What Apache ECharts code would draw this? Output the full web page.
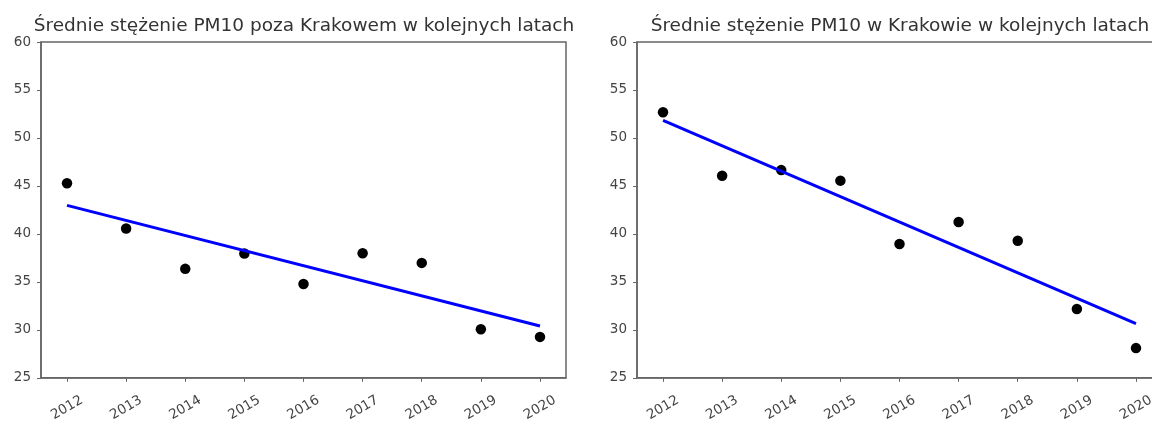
<!DOCTYPE html>
<html>
<head>
<meta charset="utf-8">
<script src="https://cdn.jsdelivr.net/npm/echarts@6/dist/echarts.min.js"></script>
<style>
html,body{margin:0;padding:0;background:#fff;overflow:hidden;}
#c{width:1200px;height:424px;}
</style>
</head>
<body>
<div id="c"></div>
<script>
const years = [2012, 2013, 2014, 2015, 2016, 2017, 2018, 2019, 2020];
const outsideValues = [45.28, 40.56, 36.36, 37.95, 34.78, 37.98, 36.98, 30.06, 29.27];
const krakowValues = [52.67, 46.06, 46.65, 45.55, 38.94, 41.25, 39.29, 32.17, 28.1];
const trendYears = [2012, 2020];
const outsideTrend = [42.97, 30.4];
const krakowTrend = [51.84, 30.65];
const yTicks = [25, 30, 35, 40, 45, 50, 55, 60];
const titles = [
  'Średnie stężenie PM10 poza Krakowem w kolejnych latach',
  'Średnie stężenie PM10 w Krakowie w kolejnych latach'
];

const FONT = 'DejaVu Sans';
const grids = [
  {left: 41, top: 42, width: 525, height: 339},
  {left: 637, top: 42, width: 525, height: 339}
];
const pair = (xs, ys) => xs.map((x, i) => [x, ys[i]]);

function xAxis(i) {
  return {
    type: 'value', gridIndex: i, min: 2011.56, max: 2020.44,
    splitLine: {show: false},
    axisLine: {show: true, onZero: false, lineStyle: {color: '#666', width: 1.5}},
    axisTick: {show: true, length: 4, customValues: years, lineStyle: {color: '#666', width: 1}},
    axisLabel: {
      customValues: years, rotate: 30, align: 'center', verticalAlign: 'middle',
      margin: 30, fontFamily: FONT, fontSize: 13.5, color: '#444',
      formatter: v => String(v)
    }
  };
}
function yAxis(i) {
  return {
    type: 'value', gridIndex: i, min: 25, max: 60, interval: 5,
    splitLine: {show: false},
    axisLine: {show: true, lineStyle: {color: '#666', width: 1.5}},
    axisTick: {show: true, length: 4, lineStyle: {color: '#666', width: 1}},
    axisLabel: {margin: 10, fontFamily: FONT, fontSize: 13.5, color: '#444',
      formatter: v => yTicks.includes(v) ? String(v) : ''}
  };
}

const chart = echarts.init(document.getElementById('c'), null, {renderer: 'canvas'});
chart.setOption({
  animation: false,
  backgroundColor: '#fff',
  title: [
    {text: titles[0], left: 304, top: 17, textAlign: 'center', padding: 0,
     textStyle: {fontFamily: FONT, fontSize: 18.5, fontWeight: 'normal', color: '#333'}},
    {text: titles[1], left: 900, top: 17, textAlign: 'center', padding: 0,
     textStyle: {fontFamily: FONT, fontSize: 18.5, fontWeight: 'normal', color: '#333'}}
  ],
  grid: grids.map(g => Object.assign({show: true, borderColor: '#666', borderWidth: 1.5, backgroundColor: 'transparent'}, g)),
  xAxis: [xAxis(0), xAxis(1)],
  yAxis: [yAxis(0), yAxis(1)],
  series: [
    {type: 'scatter', xAxisIndex: 0, yAxisIndex: 0, data: pair(years, outsideValues),
     symbolSize: 10.5, itemStyle: {color: '#000', opacity: 1}, z: 2},
    {type: 'line', xAxisIndex: 0, yAxisIndex: 0, data: pair(trendYears, outsideTrend),
     showSymbol: false, lineStyle: {color: '#0000ff', width: 3}, z: 3},
    {type: 'scatter', xAxisIndex: 1, yAxisIndex: 1, data: pair(years, krakowValues),
     symbolSize: 10.5, itemStyle: {color: '#000', opacity: 1}, z: 2},
    {type: 'line', xAxisIndex: 1, yAxisIndex: 1, data: pair(trendYears, krakowTrend),
     showSymbol: false, lineStyle: {color: '#0000ff', width: 3}, z: 3}
  ]
});
</script>
</body>
</html>
